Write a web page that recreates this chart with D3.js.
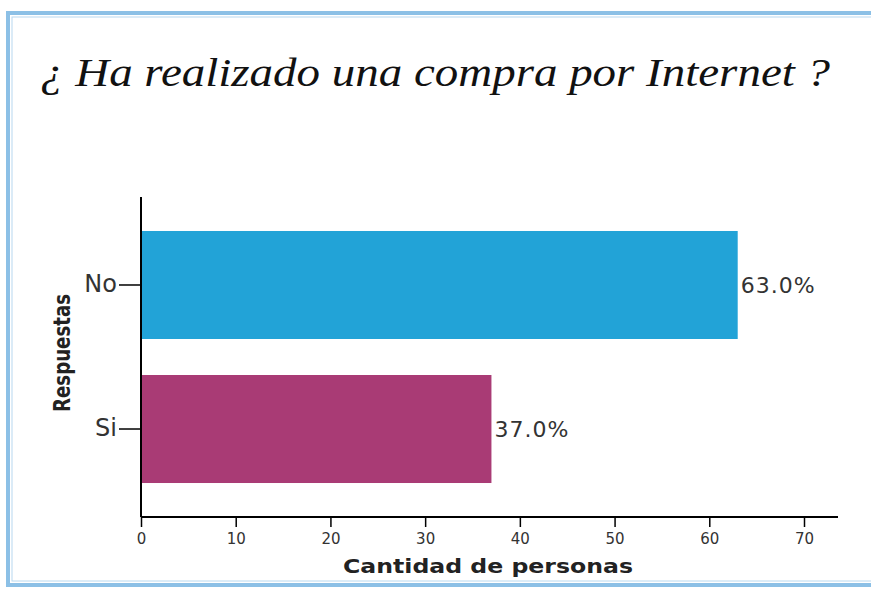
<!DOCTYPE html>
<html>
<head>
<meta charset="utf-8">
<script src="https://cdn.jsdelivr.net/npm/d3@7"></script>
<style>
    body { margin: 0; background: #fff; }
    svg { display: block; }
    .tick text { font-family: "DejaVu Sans", sans-serif; fill: #333; }
</style>
</head>
<body>
<div class="container"></div>
<script>
var categories = ['No', 'Si'];
var values = [63, 37];
var valueLabels = ['63.0%', '37.0%'];
var barColors = ['#22a3d7', '#a93b75'];
var xTicks = [0, 10, 20, 30, 40, 50, 60, 70];

const WIDTH = 871;
const HEIGHT = 590;
const LEFT = 141;
const TOP = 197;
const INNER_WIDTH = 697;
const INNER_HEIGHT = 320;

var svg = d3.select('.container').append('svg')
    .attr('width', WIDTH)
    .attr('height', HEIGHT);

// frame
svg.append('rect')
    .attr('x', 8).attr('y', 13)
    .attr('width', WIDTH + 10).attr('height', 572)
    .attr('fill', 'none')
    .attr('stroke', '#8cc0e6')
    .attr('stroke-width', 4);
svg.append('rect')
    .attr('x', 12).attr('y', 17)
    .attr('width', WIDTH + 10).attr('height', 564)
    .attr('fill', 'none')
    .attr('stroke', '#b8d8ef')
    .attr('stroke-width', 1);

svg.append('text')
    .attr('x', 40).attr('y', 86)
    .attr('textLength', 790)
    .attr('lengthAdjust', 'spacingAndGlyphs')
    .attr('font-family', '"Liberation Serif", serif')
    .attr('font-style', 'italic')
    .attr('font-size', 40)
    .attr('fill', '#111')
    .text('¿ Ha realizado una  compra por Internet ?');

var xScale = d3.scaleLinear()
    .domain([0, 70])
    .range([0, 663]);

var yScale = d3.scaleBand()
    .domain(categories)
    .range([0, INNER_HEIGHT])
    .paddingInner(0.25)
    .paddingOuter(0.236);

var g = svg.append('g')
    .attr('transform', 'translate(' + LEFT + ',' + TOP + ')');

g.selectAll('rect.bar')
    .data(categories)
    .enter().append('rect')
    .attr('class', 'bar')
    .attr('x', 0)
    .attr('y', function (c) { return yScale(c); })
    .attr('width', function (c, i) { return xScale(values[i]); })
    .attr('height', yScale.bandwidth())
    .attr('fill', function (c, i) { return barColors[i]; });

g.selectAll('text.val')
    .data(categories)
    .enter().append('text')
    .attr('class', 'val')
    .attr('x', function (c, i) { return xScale(values[i]) + 3; })
    .attr('y', function (c) { return yScale(c) + yScale.bandwidth() / 2 + 8; })
    .attr('font-family', '"DejaVu Sans", sans-serif')
    .attr('font-size', 22)
    .attr('letter-spacing', 1)
    .attr('fill', '#333')
    .text(function (c, i) { return valueLabels[i]; });

var xAxis = g.append('g')
    .attr('transform', 'translate(0,' + INNER_HEIGHT + ')')
    .call(d3.axisBottom(xScale).tickValues(xTicks).tickSize(10).tickPadding(6));
xAxis.select('.domain').attr('d', 'M0,0H' + INNER_WIDTH).attr('stroke-width', 2);
xAxis.selectAll('.tick line').attr('stroke-width', 1.5);
xAxis.selectAll('.tick text').attr('font-size', 15);

var yAxis = g.append('g')
    .call(d3.axisLeft(yScale).tickSize(22).tickPadding(2));
yAxis.select('.domain').attr('d', 'M0,0V' + INNER_HEIGHT).attr('stroke-width', 2);
yAxis.selectAll('.tick line').attr('stroke-width', 1.5);
yAxis.selectAll('.tick text')
    .attr('font-size', 24)
    .attr('dy', '0.3em');

svg.append('text')
    .attr('x', 343).attr('y', 573)
    .attr('textLength', 290)
    .attr('lengthAdjust', 'spacingAndGlyphs')
    .attr('font-family', '"DejaVu Sans", sans-serif')
    .attr('font-weight', 'bold')
    .attr('font-size', 20)
    .attr('fill', '#222')
    .text('Cantidad de personas');

svg.append('text')
    .attr('transform', 'translate(70,412) rotate(-90)')
    .attr('textLength', 118)
    .attr('lengthAdjust', 'spacingAndGlyphs')
    .attr('font-family', '"DejaVu Sans", sans-serif')
    .attr('font-weight', 'bold')
    .attr('font-size', 23)
    .attr('fill', '#222')
    .text('Respuestas');
</script>
</body>
</html>
